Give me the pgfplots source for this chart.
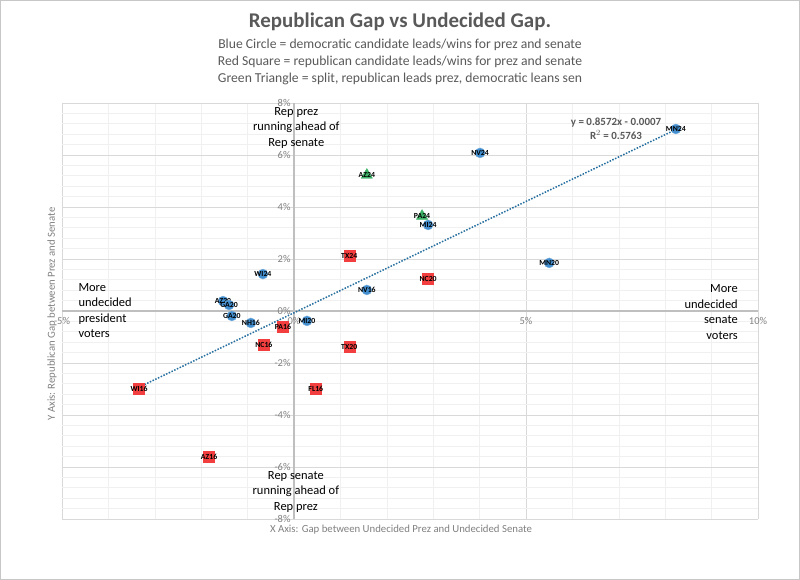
\documentclass[border=0pt]{standalone}
\usepackage{pgfplots}
\pgfplotsset{compat=1.18}
\usepackage{fontspec}
\setmainfont{Carlito}
\definecolor{ptblue}{RGB}{66,142,206}
\definecolor{ptred}{RGB}{242,62,62}
\definecolor{ptgreen}{RGB}{62,178,104}
\definecolor{trend}{RGB}{36,110,158}
\definecolor{txtgray}{RGB}{89,89,89}
\definecolor{tickgray}{RGB}{128,128,128}
\definecolor{gridmaj}{RGB}{217,217,217}
\definecolor{gridmin}{RGB}{240,240,240}
\definecolor{axgray}{RGB}{191,191,191}

\pgfplotstableread{
x y lab
8.23 7.00 MN24
4.01 6.08 NV24
2.89 3.31 MI24
1.57 0.81 NV16
5.50 1.85 MN20
-0.67 1.42 WI24
0.28 -0.38 MI20
-0.93 -0.46 NH16
-1.53 0.38 AZ20
-1.40 0.23 GA20
-1.34 -0.19 GA20
}\bluedata
\pgfplotstableread{
x y lab
1.19 2.12 TX24
2.89 1.23 NC20
-0.24 -0.62 PA16
-0.65 -1.31 NC16
1.19 -1.38 TX20
-3.34 -3.00 WI16
0.47 -3.00 FL16
-1.83 -5.62 AZ16
}\reddata
\pgfplotstableread{
x y lab
1.57 5.23 AZ24
2.76 3.65 PA24
}\greendata

\begin{document}
\begin{tikzpicture}[x=1bp,y=1bp]
\path[use as bounding box] (-62,-61) rectangle (738,519);
\draw[color=black!22, line width=0.8bp] (-61.5,-60.5) rectangle (737.5,518.5);
\node[font=\fontsize{21}{24}\selectfont\bfseries, text=txtgray] at (338,497) {Republican Gap vs Undecided Gap.};
\node[font=\fontsize{13.7}{17}\selectfont, text=txtgray, align=center] at (338,457)
 {Blue Circle = democratic candidate leads/wins for prez and senate\\
  Red Square = republican candidate leads/wins for prez and senate\\
  Green Triangle = split, republican leads prez, democratic leans sen};
\node[font=\fontsize{10.8}{12}\selectfont, text=tickgray] at (339,-11) {X Axis: Gap between Undecided Prez and Undecided Senate};
\node[font=\fontsize{10.8}{12}\selectfont, text=tickgray, rotate=90] at (-10,205) {Y Axis: Republican Gap between Prez and Senate};
\begin{axis}[
 at={(0,0)}, anchor=south west,
 scale only axis, width=696bp, height=416bp,
 xmin=-5, xmax=10, ymin=-8, ymax=8,
 axis lines=middle, axis line style={axgray, line width=1.3bp, -},
 xtick={-5,0,5,10}, ytick={-8,-6,...,8},
 minor x tick num=4, minor y tick num=4,
 grid=both, major grid style={gridmaj, line width=0.8bp}, minor grid style={gridmin, line width=0.6bp},
 major tick length=0pt, minor tick length=0pt,
 hide obscured x ticks=false, hide obscured y ticks=false,
 /pgf/number format/assume math mode=true,
 xticklabel={\pgfmathprintnumber{\tick}\%},
 yticklabel={\pgfmathprintnumber{\tick}\%},
 ticklabel style={font=\fontsize{10.5}{11}\selectfont, text=tickgray},
 xticklabel style={yshift=-3bp},
 clip=false,
 nodes near coords,
 point meta=explicit symbolic,
 nodes near coords style={anchor=center, font=\fontsize{7.8}{8}\selectfont\bfseries, text=black, inner sep=0pt},
]
\addplot[trend, line width=1.5bp, dash pattern=on 1.5bp off 1.5bp, no marks, nodes near coords={}] coordinates {(-3.34,-2.93) (8.23,6.98)};
\addplot[only marks, mark=*, mark size=5bp, mark options={fill=ptblue, draw=ptblue!70!white}] table[x=x, y=y, meta=lab] {\bluedata};
\addplot[only marks, mark=square*, mark size=5.5bp, mark options={fill=ptred, draw=ptred}] table[x=x, y=y, meta=lab] {\reddata};
\addplot[only marks, mark=triangle*, mark size=6.5bp, mark options={fill=ptgreen, draw=ptgreen}] table[x=x, y=y, meta=lab] {\greendata};

\node[font=\fontsize{12.5}{15.5}\selectfont, align=center] at (axis cs:0.05,7.04) {Rep prez\\running ahead of\\Rep senate};
\node[font=\fontsize{12.5}{15.5}\selectfont, align=center] at (axis cs:0.04,-6.96) {Rep senate\\running ahead of\\Rep prez};
\node[font=\fontsize{12.5}{15.5}\selectfont, align=left, anchor=west] at (axis cs:-4.72,0.02) {More\\undecided\\president\\voters};
\node[font=\fontsize{12.5}{15.5}\selectfont, align=right, anchor=east] at (axis cs:9.64,-0.04) {More\\undecided\\senate\\voters};
\node[font=\fontsize{11}{14}\selectfont\bfseries, text=txtgray, align=center] at (axis cs:6.94,7.0) {y = 0.8572x - 0.0007\\R$^2$ = 0.5763};
\end{axis}
\end{tikzpicture}
\end{document}
